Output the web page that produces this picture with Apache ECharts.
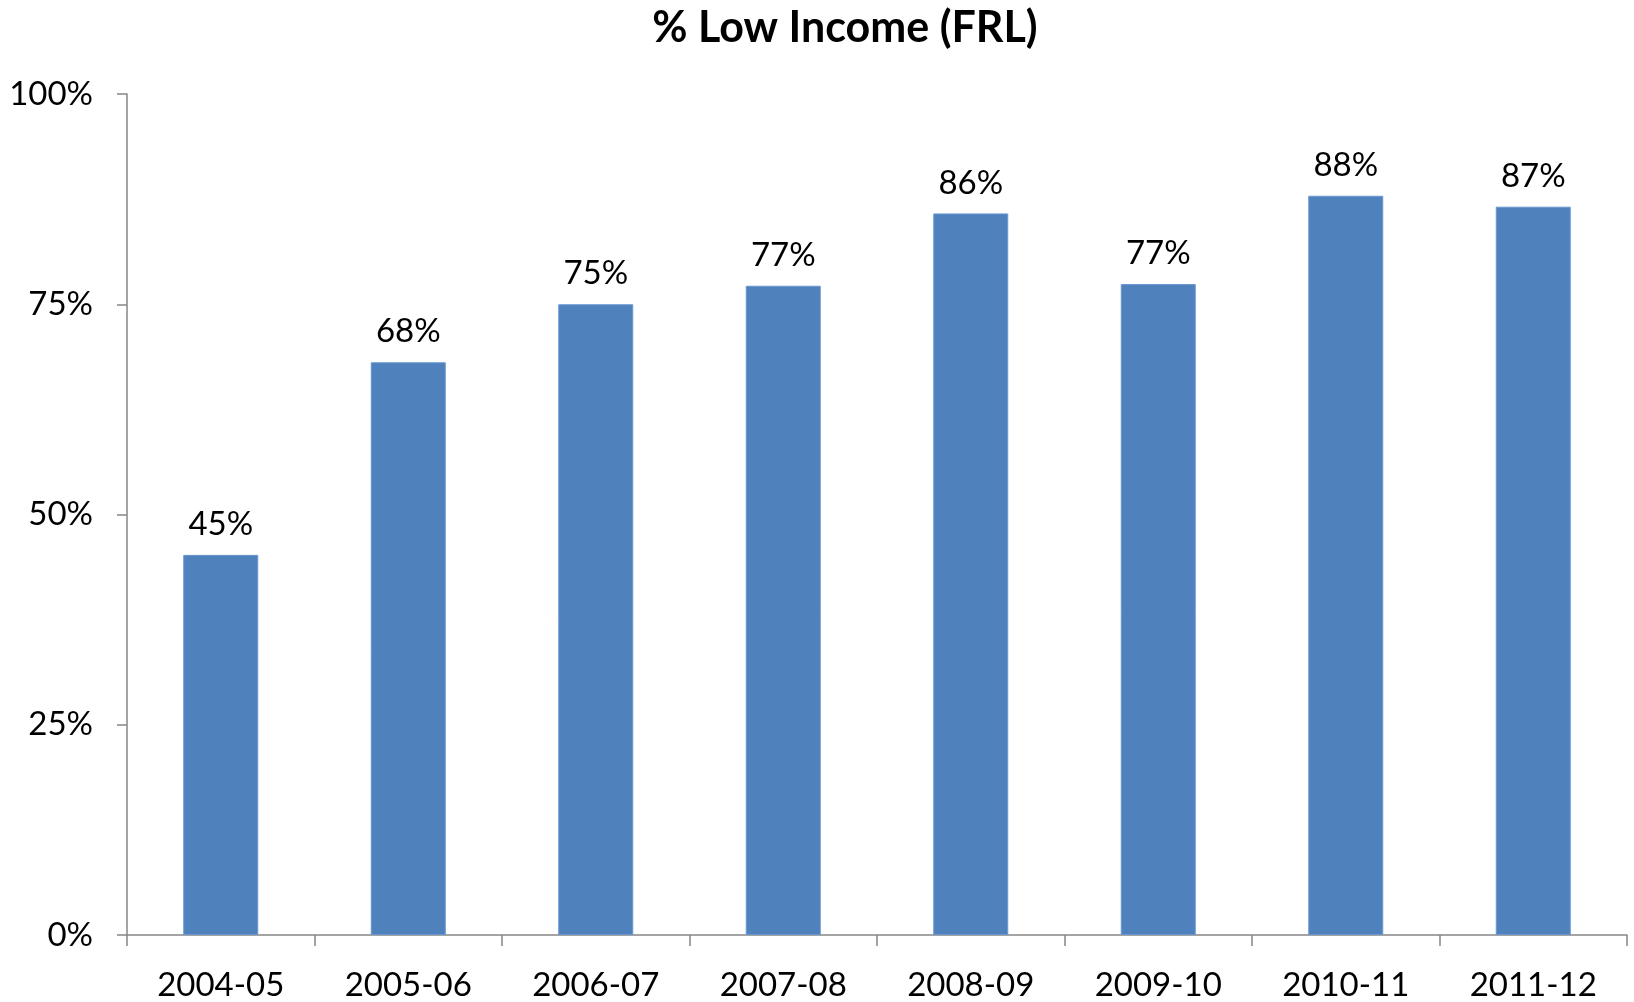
<!DOCTYPE html>
<html>
<head>
<meta charset="utf-8">
<script src="https://cdn.jsdelivr.net/npm/echarts@6/dist/echarts.min.js"></script>
<style>
html,body{margin:0;padding:0;background:#fff;}
#chart{width:1634px;height:1002px;}
</style>
</head>
<body>
<div id="chart"></div>
<script>
const titleText = '% Low Income (FRL)';
const categories = ['2004-05','2005-06','2006-07','2007-08','2008-09','2009-10','2010-11','2011-12'];
const lowIncomePct = [45.2, 68.1, 75.0, 77.2, 85.8, 77.4, 87.9, 86.6];
const yTicks = [0, 25, 50, 75, 100];

const FONT = 'Lato, "Open Sans", sans-serif';
const chart = echarts.init(document.getElementById('chart'), null, {renderer:'canvas'});
chart.setOption({
  backgroundColor:'#ffffff',
  animation:false,
  title:{
    text:titleText,
    left:840, top:2, textAlign:'center',
    textStyle:{fontFamily:FONT, fontWeight:'bold', fontSize:43, color:'#000'}
  },
  grid:{left:127, right:7, top:94, bottom:66, containLabel:false},
  xAxis:{
    type:'category', data:categories,
    axisLine:{lineStyle:{color:'#868686', width:1.5}},
    axisTick:{show:true, length:11, lineStyle:{color:'#868686', width:1.5}},
    axisLabel:{fontFamily:FONT, fontSize:33, color:'#000', margin:34}
  },
  yAxis:{
    type:'value', min:yTicks[0], max:yTicks[yTicks.length-1], interval:25,
    splitLine:{show:false},
    axisLine:{show:true, lineStyle:{color:'#868686', width:1.5}},
    axisTick:{show:true, length:10, lineStyle:{color:'#868686', width:1.5}},
    axisLabel:{fontFamily:FONT, fontSize:33, color:'#000', margin:34, formatter:v=>v+'%'}
  },
  series:[{
    type:'bar', data:lowIncomePct, barCategoryGap:'60%',
    itemStyle:{color:'#4F81BD', borderColor:'#6a97cf', borderWidth:1},
    label:{show:true, position:'top', distance:14, fontFamily:FONT, fontSize:33, color:'#000',
      formatter:p=>Math.round(p.value)+'%'}
  }]
});
</script>
</body>
</html>
